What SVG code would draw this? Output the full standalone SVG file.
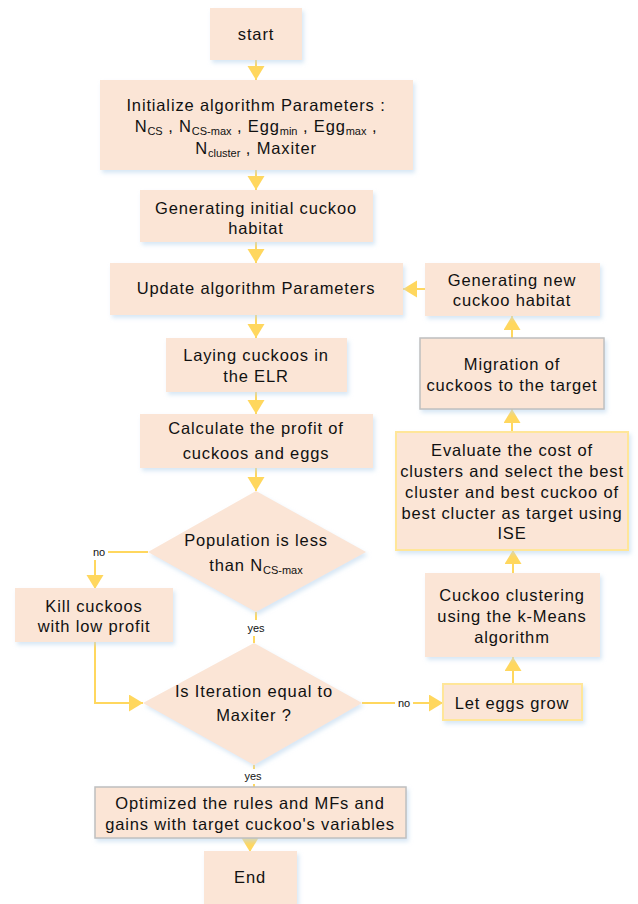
<svg xmlns="http://www.w3.org/2000/svg" width="638" height="904" viewBox="0 0 638 904">
<style>
.b{fill:#FBE5D6;filter:url(#sh)}
.g{stroke:#BFBFBF;stroke-width:1.5}
.y{stroke:#FFE699;stroke-width:2}
text{font-family:"Liberation Sans",Arial,sans-serif;font-size:16.5px;fill:#111;text-anchor:middle;letter-spacing:0.85px}
.s{font-size:11px;letter-spacing:0}
.c{fill:none;stroke:#FFD75E;stroke-width:2}
</style>
<defs>
<filter id="sh" x="-10%" y="-10%" width="125%" height="130%">
<feDropShadow dx="2" dy="3" stdDeviation="2" flood-color="#BDD7EE" flood-opacity="0.6"/>
</filter>
<marker id="a" markerUnits="userSpaceOnUse" markerWidth="15" markerHeight="18" refX="14" refY="8.5" orient="auto">
<path d="M0,0 L14,8.5 L0,17 Z" fill="#FFD75E"/>
</marker>
</defs>
<g id="connectors">
<line class="c" x1="256" y1="60" x2="256" y2="80" marker-end="url(#a)"/>
<line class="c" x1="256" y1="170" x2="256" y2="190" marker-end="url(#a)"/>
<line class="c" x1="256" y1="242" x2="256" y2="263" marker-end="url(#a)"/>
<line class="c" x1="256" y1="315" x2="256" y2="338" marker-end="url(#a)"/>
<line class="c" x1="256" y1="392" x2="256" y2="414" marker-end="url(#a)"/>
<line class="c" x1="256" y1="468" x2="256" y2="491" marker-end="url(#a)"/>
<polyline class="c" points="148,552 108,552"/>
<polyline class="c" points="95,560 95,589" marker-end="url(#a)"/>
<polyline class="c" points="95,642 95,703 143,703" marker-end="url(#a)"/>
<line class="c" x1="256" y1="612" x2="256" y2="620"/>
<line class="c" x1="254" y1="636" x2="254" y2="643"/>
<line class="c" x1="362" y1="703" x2="395" y2="703"/>
<line class="c" x1="413" y1="703" x2="443" y2="703" marker-end="url(#a)"/>
<line class="c" x1="513" y1="684" x2="513" y2="657" marker-end="url(#a)"/>
<line class="c" x1="513" y1="573" x2="513" y2="550" marker-end="url(#a)"/>
<line class="c" x1="512" y1="432" x2="512" y2="409" marker-end="url(#a)"/>
<line class="c" x1="512" y1="338" x2="512" y2="316" marker-end="url(#a)"/>
<line class="c" x1="425" y1="289" x2="403" y2="289" marker-end="url(#a)"/>
<line class="c" x1="254" y1="765" x2="254" y2="769"/>
<line class="c" x1="254" y1="784" x2="254" y2="787"/>
<line class="c" x1="250" y1="838" x2="250" y2="852" marker-end="url(#a)"/>
<text x="99" y="556" class="s">no</text>
<text x="256" y="632" class="s">yes</text>
<text x="404" y="707" class="s">no</text>
<text x="253" y="780" class="s">yes</text>
</g>
<g id="start"><rect class="b" x="210" y="8" width="92" height="52"/><text x="256" y="40">start</text></g>
<g id="init"><rect class="b" x="100" y="80" width="313" height="90"/>
<text x="256" y="111">Initialize algorithm Parameters :</text>
<text x="256" y="132">N<tspan class="s" dy="3">CS</tspan><tspan dy="-3"> , N</tspan><tspan class="s" dy="3">CS-max</tspan><tspan dy="-3"> , Egg</tspan><tspan class="s" dy="3">min</tspan><tspan dy="-3"> , Egg</tspan><tspan class="s" dy="3">max</tspan><tspan dy="-3"> ,</tspan></text>
<text x="256" y="154">N<tspan class="s" dy="3">cluster</tspan><tspan dy="-3"> , Maxiter</tspan></text>
</g>
<g id="geninit"><rect class="b" x="140" y="190" width="233" height="52"/><text x="256" y="214">Generating initial cuckoo</text><text x="256" y="234">habitat</text></g>
<g id="update"><rect class="b" x="110" y="263" width="293" height="52"/><text x="256" y="294">Update algorithm Parameters</text></g>
<g id="laying"><rect class="b" x="166" y="338" width="181" height="54"/><text x="256" y="361">Laying cuckoos in</text><text x="256" y="382">the ELR</text></g>
<g id="calc"><rect class="b" x="140" y="414" width="233" height="54"/><text x="256" y="434">Calculate the profit of</text><text x="256" y="459">cuckoos and eggs</text></g>
<g id="pop"><polygon class="b" points="256,491 366,552 256,612 148,552"/>
<text x="256" y="546">Population is less</text>
<text x="256" y="571">than N<tspan class="s" dy="3">CS-max</tspan></text></g>
<g id="kill"><rect class="b" x="15" y="588" width="158" height="54"/><text x="94" y="612">Kill cuckoos</text><text x="94" y="632">with low profit</text></g>
<g id="iter"><polygon class="b" points="254,643 362,703 254,765 143,703"/>
<text x="254" y="697">Is Iteration equal to</text><text x="254" y="721">Maxiter ?</text></g>
<g id="eggs"><rect class="b y" x="443" y="684" width="139" height="36"/><text x="512" y="709">Let eggs grow</text></g>
<g id="cluster"><rect class="b" x="425" y="573" width="175" height="84"/><text x="512" y="601">Cuckoo clustering</text><text x="512" y="622">using the k-Means</text><text x="512" y="643">algorithm</text></g>
<g id="eval"><rect class="b y" x="396" y="432" width="232" height="118"/>
<text x="512" y="456">Evaluate the cost of</text><text x="512" y="477">clusters and select the best</text><text x="512" y="498">cluster and best cuckoo of</text><text x="512" y="519">best clucter as target using</text><text x="512" y="539">ISE</text></g>
<g id="migr"><rect class="b g" x="420" y="338" width="184" height="71"/><text x="512" y="370">Migration of</text><text x="512" y="391">cuckoos to the target</text></g>
<g id="gennew"><rect class="b" x="425" y="263" width="175" height="53"/><text x="512" y="286">Generating new</text><text x="512" y="306">cuckoo habitat</text></g>
<g id="opt"><rect class="b g" x="95" y="787" width="311" height="51"/><text x="250" y="809">Optimized the rules and MFs and</text><text x="250" y="830">gains with target cuckoo's variables</text></g>
<g id="end"><rect class="b" x="204" y="851" width="93" height="53"/><text x="250" y="883">End</text></g>
</svg>
